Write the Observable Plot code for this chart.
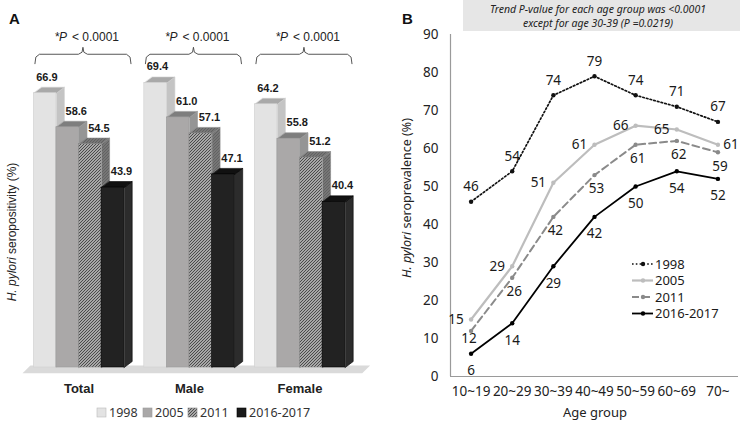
<!DOCTYPE html>
<html><head><meta charset="utf-8">
<script src="https://cdn.jsdelivr.net/npm/d3@7"></script>
<script src="https://cdn.jsdelivr.net/npm/@observablehq/plot@0.6"></script>
<style>
body{margin:0;background:#fff;}
#wrap{position:relative;width:740px;height:421px;overflow:hidden;background:#fff;}
#wrap > svg{position:absolute;top:0;}
</style></head><body><div id="wrap"></div>
<script>
// ---------- data ----------
const groups = ["Total", "Male", "Female"];
const years = ["1998", "2005", "2011", "2016-2017"];
const totalVals = [66.9, 58.6, 54.5, 43.9];
const maleVals = [69.4, 61.0, 57.1, 47.1];
const femaleVals = [64.2, 55.8, 51.2, 40.4];
const pLabel = "< 0.0001";

const ageGroups = ["10~19", "20~29", "30~39", "40~49", "50~59", "60~69", "70~"];
const s1998 = [46, 54, 74, 79, 74, 71, 67];
const s2005 = [15, 29, 51, 61, 66, 65, 61];
const s2011 = [12, 26, 42, 53, 61, 62, 59];
const s2016 = [6, 14, 29, 42, 50, 54, 52];

const wrap = document.getElementById("wrap");

// ---------- Panel A ----------
const GS = 4.89, BW = 1, DX = 0.354, DY = 1.46;
const valuesA = [totalVals, maleVals, femaleVals];
const bars = [];
groups.forEach((g, gi) => years.forEach((yr, si) => {
  const x1 = gi * GS + si * BW;
  bars.push({group: g, gi, year: yr, si, v: valuesA[gi][si], x1, x2: x1 + BW});
}));
const styleA = [
  {front: "#e3e3e3", top: "#a9a9a9", side: "#c4c4c4", stroke: "#d0d0d0"},
  {front: "#aaa8a8", top: "#7e7e7e", side: "#959595", stroke: "#9a9a9a"},
  {front: "url(#hatchFront)", top: "url(#hatchTop)", side: "url(#hatchTop)", stroke: "#888"},
  {front: "#222222", top: "#111111", side: "#2c2c2c", stroke: "#000"}
];
const poly = (pts, id) => pts.map(([x, y]) => ({x, y, id}));
const sidePoly = b => poly([[b.x2, 0], [b.x2 + DX, DY], [b.x2 + DX, b.v + DY], [b.x2, b.v]], b.group + b.year + "s");
const topPoly = b => poly([[b.x1, b.v], [b.x2, b.v], [b.x2 + DX, b.v + DY], [b.x1 + DX, b.v + DY]], b.group + b.year + "t");

const xMin = d3.min(bars, b => b.x1), xMax = d3.max(bars, b => b.x2);
const floorPts = poly([[xMin - 0.5, -1.4], [xMin - 0.15, 0.5], [xMax + DX + 0.75, 0.5], [xMax + DX + 0.4, -1.4]], "floor");

const marksA = [Plot.line(floorPts, {x: "x", y: "y", z: "id", fill: "#dadada", stroke: "none", curve: "linear-closed"})];
years.forEach((yr, si) => {
  const bs = bars.filter(b => b.si === si);
  const st = styleA[si];
  marksA.push(
    Plot.line(bs.flatMap(sidePoly), {x: "x", y: "y", z: "id", fill: st.side, stroke: st.stroke, strokeWidth: 0.6, curve: "linear-closed"}),
    Plot.line(bs.flatMap(topPoly), {x: "x", y: "y", z: "id", fill: st.top, stroke: st.stroke, strokeWidth: 0.6, curve: "linear-closed"}),
    Plot.rect(bs, {x1: "x1", x2: "x2", y1: 0, y2: "v", fill: st.front, stroke: st.stroke, strokeWidth: 0.6})
  );
});
// value labels
marksA.push(Plot.text(bars, {x: b => b.x1 + 0.5 + (b.si === 0 ? 0.08 : 0.38), y: "v", text: b => b.v.toFixed(1), dy: -16, fontWeight: "bold", fontSize: 11, fill: "#1a1a1a"}));
// category labels
const groupInfo = groups.map((g, gi) => {
  const bs = bars.filter(b => b.gi === gi);
  const L = d3.min(bs, b => b.x1) + 0.05, R = d3.max(bs, b => b.x2) + 0.3;
  return {group: g, L, R, C: (L + R) / 2, mid: (d3.min(bs, b => b.x1) + d3.max(bs, b => b.x2)) / 2};
});
marksA.push(Plot.text(groupInfo, {x: "mid", y: 0, text: "group", dy: 21, fontWeight: "bold", fontSize: 13, fill: "#222"}));
// brackets
const base = d3.max(bars, b => b.v) + 4.7;
const bracketPts = groupInfo.flatMap(g => [
  [g.L, base], [g.L + 0.04, base + 1.6], [g.L + 0.2, base + 2.3], [g.C - 0.2, base + 2.3], [g.C - 0.04, base + 2.8], [g.C, base + 4.0],
  [g.C + 0.04, base + 2.8], [g.C + 0.2, base + 2.3], [g.R - 0.2, base + 2.3], [g.R - 0.04, base + 1.6], [g.R, base]
].map(([x, y]) => ({x, y, id: g.group})));
marksA.push(Plot.line(bracketPts, {x: "x", y: "y", z: "id", stroke: "#444", strokeWidth: 0.9, curve: "linear"}));
marksA.push(
  Plot.text(groupInfo, {x: "C", y: base + 6.4, text: () => "*", dx: -28, textAnchor: "start", fontSize: 12, fill: "#222"}),
  Plot.text(groupInfo, {x: "C", y: base + 6.4, text: () => "P", dx: -24, textAnchor: "start", fontSize: 12, fontStyle: "italic", fill: "#222"}),
  Plot.text(groupInfo, {x: "C", y: base + 6.4, text: () => pLabel, dx: -11, textAnchor: "start", fontSize: 12, fill: "#222"})
);

const svgA = Plot.plot({
  width: 370, height: 421, marginLeft: 22, marginRight: 0, marginTop: 18.5, marginBottom: 54,
  x: {domain: [-0.5, 14.9], axis: null},
  y: {domain: [0, 85], axis: null},
  style: {fontFamily: "'Liberation Sans', Arial, sans-serif", fontSize: "11px", color: "#222", background: "transparent", overflow: "visible"},
  marks: marksA
});
svgA.style.left = "0px";
const defs = d3.select(svgA).insert("defs", ":first-child");
function hatch(id, bg, fg) {
  const p = defs.append("pattern").attr("id", id).attr("patternUnits", "userSpaceOnUse").attr("width", 3).attr("height", 3);
  p.append("rect").attr("width", 3).attr("height", 3).attr("fill", bg);
  p.append("path").attr("d", "M-1,1 l2,-2 M0,3 l3,-3 M2,4 l2,-2").attr("stroke", fg).attr("stroke-width", 1.1);
}
hatch("hatchFront", "#cfcfcf", "#444");
hatch("hatchTop", "#acacac", "#353535");
wrap.appendChild(svgA);

// ---------- Panel B ----------
const pts = (arr, name) => arr.map((v, i) => ({i, v, series: name}));
const d1998 = pts(s1998, "1998"), d2005 = pts(s2005, "2005"), d2011 = pts(s2011, "2011"), d2016 = pts(s2016, "2016-2017");
const styleB = {
  "1998": {stroke: "#111", width: 1.7, dash: "1.6,2.2"},
  "2005": {stroke: "#bdbdbd", width: 2.2, dash: null},
  "2011": {stroke: "#8a8a8a", width: 2, dash: "7,4"},
  "2016-2017": {stroke: "#000", width: 1.8, dash: null}
};
const lineMarks = [[d1998, "1998"], [d2005, "2005"], [d2011, "2011"], [d2016, "2016-2017"]].flatMap(([d, k]) => [
  Plot.line(d, {x: "i", y: "v", stroke: styleB[k].stroke, strokeWidth: styleB[k].width, strokeDasharray: styleB[k].dash || undefined}),
  Plot.dot(d, {x: "i", y: "v", r: 2.2, fill: styleB[k].stroke, stroke: "none"})
]);
const txt = {fontSize: 13.5, fill: "#1a1a1a", text: d => String(d.v)};
const svgB = Plot.plot({
  width: 370, height: 421, marginLeft: 80, marginRight: 2, marginTop: 34, marginBottom: 45,
  x: {domain: [-0.5, 6.5], ticks: 7, tickFormat: i => ageGroups[i], tickSize: 0, tickPadding: 10, label: null},
  y: {domain: [0, 90], ticks: 10, tickSize: 0, tickPadding: 12, label: null},
  style: {fontFamily: "'Noto Sans', sans-serif", fontSize: "13.5px", color: "#222", background: "transparent", overflow: "visible"},
  marks: [
    Plot.ruleX([-0.5], {stroke: "#9a9a9a", strokeWidth: 1.2}),
    Plot.ruleY([0], {stroke: "#9a9a9a", strokeWidth: 1.2}),
    ...lineMarks,
    Plot.text(d1998, {x: "i", y: "v", dy: -15, ...txt}),
    Plot.text(d2005.filter(d => d.i < 6), {x: "i", y: "v", dx: -15, ...txt}),
    Plot.text(d2005.filter(d => d.i === 6), {x: "i", y: "v", dx: 13, ...txt}),
    Plot.text(d2011.filter(d => d.i === 0), {x: "i", y: "v", dy: 8, dx: -2, ...txt}),
    Plot.text(d2011.filter(d => d.i > 0), {x: "i", y: "v", dy: 14, dx: 2, ...txt}),
    Plot.text(d2016, {x: "i", y: "v", dy: 17, ...txt})
  ]
});
svgB.style.left = "370px";
wrap.appendChild(svgB);

// ---------- overlay: panel letters, axis titles, legends, note ----------
const ov = d3.select(wrap).append("svg").attr("width", 740).attr("height", 421)
  .style("position", "absolute").style("left", "0px").style("top", "0px").style("pointer-events", "none");
const sans = "'Liberation Sans', Arial, sans-serif", noto = "'Noto Sans', sans-serif";
ov.append("text").attr("x", 9).attr("y", 24).text("A").attr("font-family", sans).attr("font-weight", "bold").attr("font-size", 15).attr("fill", "#111");
ov.append("text").attr("x", 402).attr("y", 24).text("B").attr("font-family", sans).attr("font-weight", "bold").attr("font-size", 15).attr("fill", "#111");

const yA = ov.append("text").attr("transform", "translate(16,232) rotate(-90)").attr("text-anchor", "middle")
  .attr("font-family", sans).attr("font-size", 12).attr("fill", "#222");
yA.append("tspan").attr("font-style", "italic").text("H. pylori");
yA.append("tspan").text(" seropositivity (%)");

const yB = ov.append("text").attr("transform", "translate(411,198) rotate(-90)").attr("text-anchor", "middle")
  .attr("font-family", noto).attr("font-size", 12.5).attr("fill", "#222");
yB.append("tspan").attr("font-style", "italic").text("H. pylori");
yB.append("tspan").text(" seroprevalence (%)");

ov.append("text").attr("x", 595).attr("y", 412).attr("dy", "0.35em").attr("text-anchor", "middle").attr("font-family", noto)
  .attr("font-size", 13).attr("fill", "#222").text("Age group");

// trend note box
ov.append("rect").attr("x", 463).attr("y", 0).attr("width", 277).attr("height", 31).attr("fill", "#e6e6e6");
ov.append("text").attr("x", 598).attr("y", 9).attr("dy", "0.35em").attr("text-anchor", "middle").attr("font-family", noto)
  .attr("font-style", "italic").attr("font-size", 10.5).attr("fill", "#222").text("Trend P-value for each age group was <0.0001");
ov.append("text").attr("x", 598).attr("y", 23).attr("dy", "0.35em").attr("text-anchor", "middle").attr("font-family", noto)
  .attr("font-style", "italic").attr("font-size", 10.5).attr("fill", "#222").text("except for age 30-39 (P =0.0219)");

// legend B
years.forEach((yr, k) => {
  const st = styleB[yr], y = 264 + k * 16.5;
  ov.append("line").attr("x1", 632).attr("x2", 653).attr("y1", y).attr("y2", y).attr("stroke", st.stroke)
    .attr("stroke-width", st.width).attr("stroke-dasharray", st.dash);
  ov.append("circle").attr("cx", 643).attr("cy", y).attr("r", 2.2).attr("fill", st.stroke);
  ov.append("text").attr("x", 655).attr("y", y).attr("dy", "0.35em").attr("font-family", noto).attr("font-size", 13)
    .attr("fill", "#1a1a1a").text(yr);
});

// legend A
const ovDefs = ov.append("defs");
const pat = ovDefs.append("pattern").attr("id", "hatchLeg").attr("patternUnits", "userSpaceOnUse").attr("width", 3).attr("height", 3);
pat.append("rect").attr("width", 3).attr("height", 3).attr("fill", "#cfcfcf");
pat.append("path").attr("d", "M-1,1 l2,-2 M0,3 l3,-3 M2,4 l2,-2").attr("stroke", "#444").attr("stroke-width", 1.1);
const legA = [{x: 97, fill: "#e3e3e3", s: "#bbb"}, {x: 143, fill: "#aaa8a8", s: "#999"}, {x: 188, fill: "url(#hatchLeg)", s: "#888"}, {x: 237, fill: "#1a1a1a", s: "#000"}];
years.forEach((yr, k) => {
  const L = legA[k];
  ov.append("rect").attr("x", L.x).attr("y", 408).attr("width", 9).attr("height", 9).attr("fill", L.fill).attr("stroke", L.s).attr("stroke-width", 0.6);
  ov.append("text").attr("x", L.x + 12).attr("y", 412.5).attr("dy", "0.35em").attr("font-family", noto).attr("font-size", 12.5)
    .attr("fill", "#333").text(yr);
});
</script></body></html>
